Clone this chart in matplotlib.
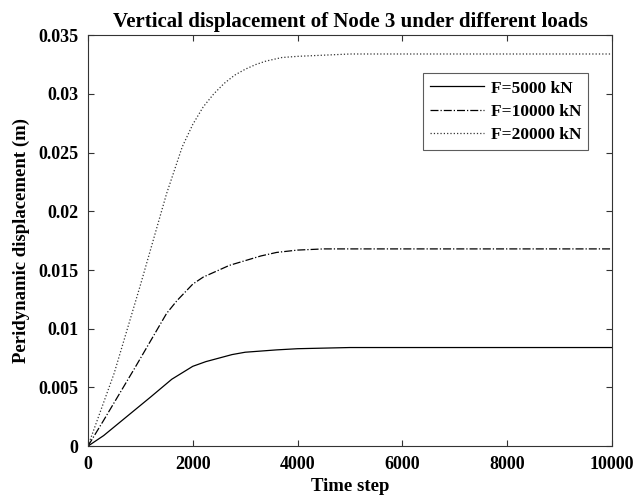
import numpy as np, matplotlib
matplotlib.use("Agg"); import matplotlib.pyplot as plt
plt.rcParams['font.family']=['Liberation Serif','DejaVu Serif']
plt.rcParams['font.weight']='bold'
# values
t5=[0,300,600,900,1200,1600,2000,2250,2500,2750,3000,3300,3600,4000,5000,6000,8000,10000]
f5=[0,0.0009,0.0020,0.0031,0.0042,0.0057,0.0068,0.0072,0.0075,0.0078,0.0080,0.0081,0.0082,0.0083,0.0084,0.0084,0.0084,0.0084]
t10=[0,300,900,1500,1700,2000,2200,2450,2700,3000,3300,3600,4000,4500,6000,8000,10000]
f10=[0,0.0022,0.0067,0.0113,0.0124,0.0138,0.0144,0.0149,0.0154,0.0158,0.0162,0.0165,0.0167,0.0168,0.0168,0.0168,0.0168]
t20=[0,500,1000,1500,1800,2000,2200,2400,2600,2800,3000,3200,3400,3700,4000,4500,5000,6000,8000,10000]
f20=[0,0.0062,0.0137,0.0215,0.0255,0.0274,0.0289,0.0300,0.0309,0.0316,0.0321,0.0325,0.0328,0.0331,0.0332,0.0333,0.0334,0.0334,0.0334,0.0334]
labels=["F=5000 kN","F=10000 kN","F=20000 kN"]

fig=plt.figure(figsize=(6.37,5.03),dpi=100)
ax=fig.add_axes([0.138,0.113,0.823,0.817])
ax.plot(t5,f5,'-',color='black',lw=0.9,label=labels[0])
ax.plot(t10,f10,'-.',color='black',lw=0.9,label=labels[1])
ax.plot(t20,f20,':',color='#333333',lw=0.9,label=labels[2])
ax.set_xlim(0,10000); ax.set_ylim(0,0.035)
ax.set_xticks(np.arange(0,10001,2000)); ax.set_yticks(np.arange(0,0.0351,0.005))
ax.set_yticklabels(['0','0.005','0.01','0.015','0.02','0.025','0.03','0.035'])
ax.tick_params(direction='in',top=True,right=True,labelsize=13,length=4,color='#333333')
ax.tick_params(axis='y',pad=7); ax.tick_params(axis='x',pad=7)
for s in ax.spines.values(): s.set_color('#333333'); s.set_linewidth(0.8)
ax.set_xlabel('Time step',fontsize=13.5,fontweight='bold',labelpad=4)
ax.set_ylabel('Peridynamic displacement (m)',fontsize=13.5,fontweight='bold',labelpad=6)
ax.set_title('Vertical displacement of Node 3 under different loads',fontsize=15,fontweight='bold',pad=6)
leg=ax.legend(loc='upper right',bbox_to_anchor=(0.954,0.907),borderaxespad=0,fancybox=False,edgecolor='#333333',
              prop={'weight':'bold','size':12.5},handlelength=3.1,handletextpad=0.4,borderpad=0.4,labelspacing=0.4)
leg.get_frame().set_linewidth(0.8)
fig.savefig('out.png',dpi=100)
